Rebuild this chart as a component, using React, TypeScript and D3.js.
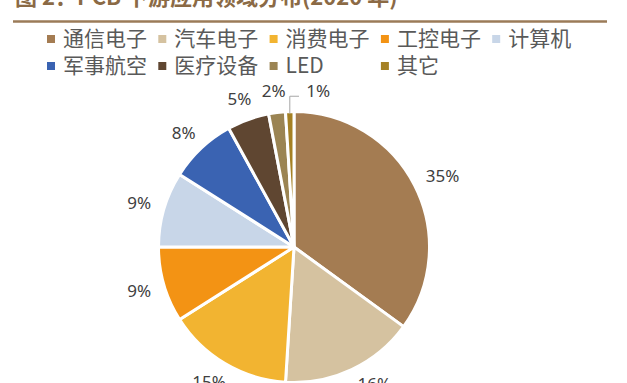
import React from "react";
import * as d3 from "d3";

const categories = ["通信电子", "汽车电子", "消费电子", "工控电子", "计算机", "军事航空", "医疗设备", "LED", "其它"];
const values = [35, 16, 15, 9, 9, 8, 5, 2, 1];
const colors = ["#A47C52", "#D5C2A0", "#F2B431", "#F39314", "#C8D6E8", "#3A63B2", "#5F4631", "#9B8453", "#A58125"];
const title = "图 2：PCB 下游应用领域分布(2020 年)";

const W = 627;
const H = 383;
const cx = 294;
const cy = 247;
const R = 135.5;

export default function App() {
  const data = categories.map((c, i) => ({ name: c, value: values[i], color: colors[i] }));
  const pie = d3.pie<any>().sort(null).value((d: any) => d.value).startAngle(0).endAngle(2 * Math.PI);
  const arcs = pie(data);
  const arcGen = d3.arc<any>().innerRadius(0).outerRadius(R);

  const fontSize = 17;
  const labelR0 = 150;
  const h = 14;
  const yMax = 384;
  const labels: any[] = [];
  arcs.forEach((a) => {
    const mid = (a.startAngle + a.endAngle) / 2;
    const s = Math.sin(mid);
    const c = Math.cos(mid);
    const text = `${a.data.value}%`;
    const w = text.length * 0.66 * fontSize;
    let x = cx + s * labelR0 + (s * w) / 2;
    let y = cy - c * labelR0 - (c * h) / 2;
    if (y > yMax) {
      const rr = Math.hypot(x - cx, y - cy);
      const dy = yMax - cy;
      const dx = Math.sqrt(Math.max(0, rr * rr - dy * dy));
      x = cx + (s >= 0 ? dx : -dx);
      y = yMax;
    }
    let leader: any = null;
    const prev = labels[labels.length - 1];
    if (prev && c > 0.5 && prev.c > 0.5 && Math.abs(prev.y - y) < h && x - w / 2 < prev.x + prev.w / 2 + 4) {
      x = prev.x + prev.w / 2 + 22 + w / 2;
      y = prev.y;
      const ax = cx + s * (R - 2);
      const ay = cy - c * (R - 2);
      leader = { ax, ay, ly: y + 5, lx: x - w / 2 - 8 };
    }
    labels.push({ x, y, w, c, text, leader });
  });

  const legendX0 = 47;
  const legendDx = 111.3;
  const legendRows = [39, 66];

  return (
    <svg width={W} height={H} style={{ position: "absolute", left: 0, top: 0, background: "#fff" }}>
      <rect x={0} y={0} width={W} height={H} fill="#fff" />
      <text x={15} y={5} fontFamily="'Noto Sans CJK SC', 'Noto Sans'" fontWeight="bold" fontSize={22} fill="#8B6A45">
        {title}
      </text>
      <line x1={13} x2={607} y1={21.5} y2={21.5} stroke="#9B7B58" strokeWidth={2.5} />
      {data.map((d, i) => {
        const row = Math.floor(i / 5);
        const col = i % 5;
        const x = legendX0 + col * legendDx;
        const y = legendRows[row];
        return (
          <g key={d.name}>
            <rect x={x} y={y - 4} width={8} height={8} fill={d.color} />
            <text x={x + 16} y={y} dy="0.35em" fontFamily="'Noto Sans CJK SC', 'Noto Sans'" fontSize={21} fill="#595959">
              {d.name}
            </text>
          </g>
        );
      })}
      <g transform={`translate(${cx},${cy})`}>
        {arcs.map((a, i) => (
          <path key={i} d={arcGen(a) as string} fill={a.data.color} stroke="#fff" strokeWidth={3} strokeLinejoin="round" />
        ))}
      </g>
      {labels.map((l, i) => (
        <g key={i}>
          {l.leader && (
            <polyline
              points={`${l.leader.ax},${l.leader.ay} ${l.leader.ax},${l.leader.ly} ${l.leader.lx},${l.leader.ly}`}
              fill="none"
              stroke="#A6A6A6"
              strokeWidth={1}
            />
          )}
          <text x={l.x} y={l.y} dy="0.35em" textAnchor="middle" fontFamily="'Noto Sans', 'Open Sans'" fontSize={fontSize} fill="#404040">
            {l.text}
          </text>
        </g>
      ))}
    </svg>
  );
}
